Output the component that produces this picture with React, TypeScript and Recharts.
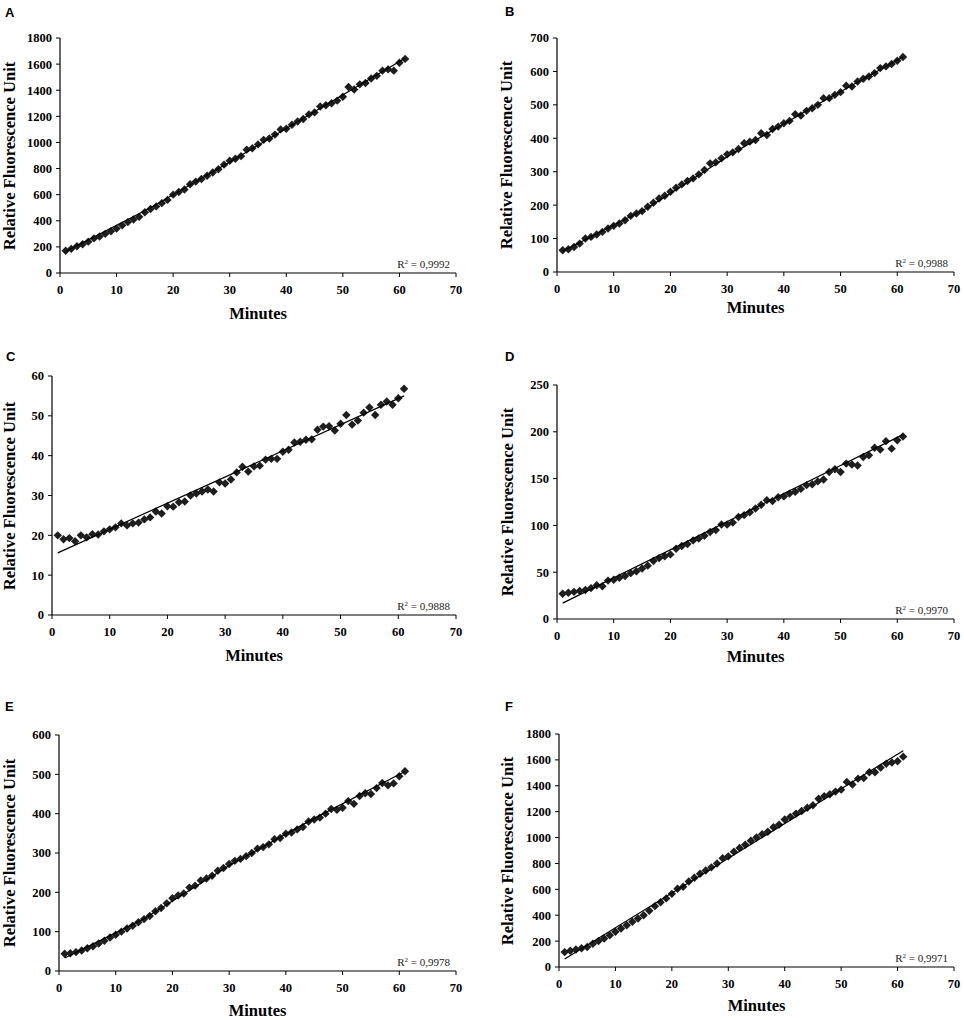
import { ScatterChart, Scatter, XAxis, YAxis } from "recharts";

// minutes sampled in every panel
const minutes = [
  1, 2, 3, 4, 5, 6, 7, 8, 9, 10, 11, 12, 13, 14, 15, 16, 17, 18, 19, 20, 21,
  22, 23, 24, 25, 26, 27, 28, 29, 30, 31, 32, 33, 34, 35, 36, 37, 38, 39, 40,
  41, 42, 43, 44, 45, 46, 47, 48, 49, 50, 51, 52, 53, 54, 55, 56, 57, 58, 59,
  60, 61,
];
const xTicks = [0, 10, 20, 30, 40, 50, 60, 70];

const rfuA = [
  170, 185, 205, 220, 240, 265, 280, 300, 320, 340, 365, 390, 410, 430, 465,
  490, 510, 535, 560, 600, 620, 640, 680, 700, 720, 745, 770, 795, 830, 860,
  875, 895, 945, 955, 985, 1020, 1030, 1060, 1100, 1105, 1135, 1160, 1180,
  1215, 1230, 1275, 1285, 1300, 1320, 1350, 1425, 1405, 1445, 1455, 1490, 1510,
  1550, 1560, 1550, 1610, 1640,
];
const rfuB = [
  65, 68, 75, 85, 100, 105, 112, 120, 130, 138, 145, 155, 168, 175, 182, 195,
  207, 220, 228, 240, 252, 262, 272, 280, 292, 305, 325, 328, 340, 352, 358,
  368, 385, 390, 395, 415, 410, 428, 435, 445, 452, 472, 468, 482, 490, 500,
  520, 520, 530, 538, 557, 555, 570, 578, 585, 595, 610, 615, 622, 632, 643,
];
const rfuC = [
  20, 19, 19.3, 18.5, 20, 19.5, 20.3, 20.2, 21, 21.5, 22, 23, 22.5, 23, 23.2,
  24, 24.5, 26, 25.5, 27.3, 27.2, 28.3, 28.5, 30, 30.5, 31, 31.5, 31, 33.3, 33,
  34, 35.8, 37.2, 36, 37.3, 37.5, 39, 39.2, 39.2, 41, 41.5, 43.3, 43.5, 44,
  44.1, 46.5, 47.3, 47.4, 46.3, 48, 50.2, 47.8, 48.8, 50.8, 52.1, 50.2, 52.8,
  53.6, 52.8, 54.4, 56.8,
];
const rfuD = [
  27, 28, 29, 30, 31, 33, 36, 35, 41, 42, 44, 46, 49, 51, 54, 57, 62, 65, 67,
  69, 75, 78, 80, 84, 86, 89, 93, 95, 101, 101, 103, 109, 111, 114, 118, 122,
  127, 126, 130, 131, 134, 136, 139, 143, 144, 147, 149, 157, 160, 157, 166,
  165, 164, 173, 175, 183, 181, 190, 182, 191, 195,
];
const rfuE = [
  44, 45, 48, 52, 58, 63, 70, 77, 85, 92, 100, 108, 115, 124, 132, 140, 152,
  160, 172, 185, 192, 197, 212, 217, 230, 235, 242, 255, 262, 272, 280, 285,
  292, 300, 311, 315, 322, 335, 338, 349, 352, 360, 366, 380, 385, 390, 400,
  412, 410, 415, 432, 425, 445, 452, 450, 465, 478, 472, 477, 495, 508,
];
const rfuF = [
  115, 125, 135, 145, 155, 180, 200, 220, 245, 272, 298, 323, 350, 375, 400,
  435, 470, 500, 530, 565, 605, 620, 660, 690, 720, 745, 770, 800, 840, 855,
  890, 920, 945, 975, 1000, 1025, 1045, 1080, 1100, 1140, 1160, 1185, 1205,
  1230, 1250, 1300, 1320, 1335, 1355, 1370, 1430, 1410, 1455, 1460, 1505, 1505,
  1540, 1570, 1580, 1590, 1625,
];

// trend lines, read where they show along each panel
const trendMinutesA = [1, 16, 31, 46, 61];
const trendA = [165, 500, 875, 1262, 1645];
const trendMinutesB = [1, 16, 31, 46, 61];
const trendB = [62, 192, 355, 502, 643];
const trendMinutesC = [1, 61];
const trendC = [15.6, 55];
const trendMinutesD = [1, 61];
const trendD = [17, 197];
const trendMinutesE = [1, 15, 30, 45, 61];
const trendE = [33, 133, 268, 388, 507];
const trendMinutesF = [1, 61];
const trendF = [62, 1671];

const yTicksA = [0, 200, 400, 600, 800, 1000, 1200, 1400, 1600, 1800];
const yTicksB = [0, 100, 200, 300, 400, 500, 600, 700];
const yTicksC = [0, 10, 20, 30, 40, 50, 60];
const yTicksD = [0, 50, 100, 150, 200, 250];
const yTicksE = [0, 100, 200, 300, 400, 500, 600];
const yTicksF = [0, 200, 400, 600, 800, 1000, 1200, 1400, 1600, 1800];

const r2Labels = ["0,9992", "0,9988", "0,9888", "0,9970", "0,9978", "0,9971"];

const serif = "'Liberation Serif', 'Times New Roman', serif";
const YW = 60;
const MT = 10;
const MR = 10;
const XH = 30;

const Diamond = (props: any) => {
  const { cx, cy } = props;
  if (cx == null || cy == null) return <g />;
  const r = 4.2;
  return (
    <polygon
      points={`${cx},${cy - r} ${cx + r},${cy} ${cx},${cy + r} ${cx - r},${cy}`}
      fill="#1e1e1e"
    />
  );
};

type PanelProps = {
  letter: string;
  values: number[];
  trendX: number[];
  trend: number[];
  yTicks: number[];
  r2: string;
  box: { left: number; top: number; right: number; bottom: number };
  letterPos: { x: number; y: number };
  xTitleY: number;
  yTitleX: number;
};

const titleStyle = {
  position: "absolute" as const,
  height: 20,
  lineHeight: "20px",
  textAlign: "center" as const,
  fontFamily: serif,
  fontWeight: "bold",
  fontSize: 16.5,
  color: "#000",
  whiteSpace: "nowrap" as const,
};

const Panel = ({
  letter,
  values,
  trendX,
  trend,
  yTicks,
  r2,
  box,
  letterPos,
  xTitleY,
  yTitleX,
}: PanelProps) => {
  const points = minutes.map((m, i) => ({ x: m, y: values[i] }));
  const line = trendX.map((m, i) => ({ x: m, y: trend[i] }));
  const plotW = box.right - box.left;
  const plotH = box.bottom - box.top;
  const midX = (box.left + box.right) / 2;
  const midY = (box.top + box.bottom) / 2;
  const tickStyle = {
    fill: "#000",
    fontSize: 12.5,
    fontWeight: "bold",
    fontFamily: serif,
  };

  return (
    <>
      <div
        style={{
          position: "absolute",
          left: letterPos.x,
          top: letterPos.y,
          fontFamily: "'Liberation Sans', Arial, sans-serif",
          fontWeight: "bold",
          fontSize: 13,
          lineHeight: "13px",
        }}
      >
        {letter}
      </div>
      <div
        style={{
          position: "absolute",
          left: box.left - YW,
          top: box.top - MT,
        }}
      >
        <ScatterChart
          width={YW + plotW + MR}
          height={MT + plotH + XH}
          margin={{ top: MT, right: MR, bottom: 0, left: 0 }}
        >
          <XAxis
            type="number"
            dataKey="x"
            domain={[0, 70]}
            ticks={xTicks}
            height={XH}
            tick={tickStyle}
            tickSize={4}
            tickMargin={8}
            axisLine={{ stroke: "#000", strokeWidth: 1.2 }}
            tickLine={{ stroke: "#000" }}
          />
          <YAxis
            type="number"
            dataKey="y"
            domain={[yTicks[0], yTicks[yTicks.length - 1]]}
            ticks={yTicks}
            width={YW}
            tick={tickStyle}
            tickSize={4}
            tickMargin={4}
            axisLine={{ stroke: "#000", strokeWidth: 1.2 }}
            tickLine={{ stroke: "#000" }}
          />
          <Scatter data={points} shape={Diamond} isAnimationActive={false} />
          <Scatter
            data={line}
            line={{ stroke: "#000", strokeWidth: 1.2 }}
            shape={() => <g />}
            isAnimationActive={false}
          />
        </ScatterChart>
      </div>
      <div style={{ ...titleStyle, left: midX - 60, width: 120, top: xTitleY - 10 }}>
        Minutes
      </div>
      <div
        style={{
          ...titleStyle,
          left: yTitleX - 150,
          width: 300,
          top: midY - 10,
          transform: "rotate(-90deg)",
        }}
      >
        Relative Fluorescence Unit
      </div>
      <div
        style={{
          position: "absolute",
          left: box.right - 6 - 60,
          width: 60,
          top: box.bottom - 18,
          textAlign: "right",
          fontFamily: serif,
          fontSize: 11,
          lineHeight: "14px",
          color: "#222",
          whiteSpace: "nowrap",
        }}
      >
        R<sup style={{ fontSize: 7, verticalAlign: "4px" }}>2</sup> = {r2}
      </div>
    </>
  );
};

const App = () => {
  return (
    <div
      style={{
        position: "absolute",
        left: 0,
        top: 0,
        width: 964,
        height: 1020,
        background: "#fff",
      }}
    >
      <Panel
        letter="A"
        values={rfuA}
        trendX={trendMinutesA}
        trend={trendA}
        yTicks={yTicksA}
        r2={r2Labels[0]}
        box={{ left: 60, top: 38, right: 456, bottom: 273 }}
        letterPos={{ x: 5, y: 6 }}
        xTitleY={313.5}
        yTitleX={10}
      />
      <Panel
        letter="B"
        values={rfuB}
        trendX={trendMinutesB}
        trend={trendB}
        yTicks={yTicksB}
        r2={r2Labels[1]}
        box={{ left: 557, top: 38, right: 954, bottom: 272 }}
        letterPos={{ x: 505, y: 5 }}
        xTitleY={308}
        yTitleX={507}
      />
      <Panel
        letter="C"
        values={rfuC}
        trendX={trendMinutesC}
        trend={trendC}
        yTicks={yTicksC}
        r2={r2Labels[2]}
        box={{ left: 52, top: 376, right: 456, bottom: 615 }}
        letterPos={{ x: 6, y: 350 }}
        xTitleY={656}
        yTitleX={10}
      />
      <Panel
        letter="D"
        values={rfuD}
        trendX={trendMinutesD}
        trend={trendD}
        yTicks={yTicksD}
        r2={r2Labels[3]}
        box={{ left: 557, top: 385, right: 954, bottom: 619 }}
        letterPos={{ x: 505, y: 350 }}
        xTitleY={656.5}
        yTitleX={507.5}
      />
      <Panel
        letter="E"
        values={rfuE}
        trendX={trendMinutesE}
        trend={trendE}
        yTicks={yTicksE}
        r2={r2Labels[4]}
        box={{ left: 59, top: 735, right: 456, bottom: 971 }}
        letterPos={{ x: 5, y: 700 }}
        xTitleY={1011}
        yTitleX={10}
      />
      <Panel
        letter="F"
        values={rfuF}
        trendX={trendMinutesF}
        trend={trendF}
        yTicks={yTicksF}
        r2={r2Labels[5]}
        box={{ left: 559, top: 734, right: 954, bottom: 967 }}
        letterPos={{ x: 505, y: 700 }}
        xTitleY={1006}
        yTitleX={507.5}
      />
    </div>
  );
};

export default App;
